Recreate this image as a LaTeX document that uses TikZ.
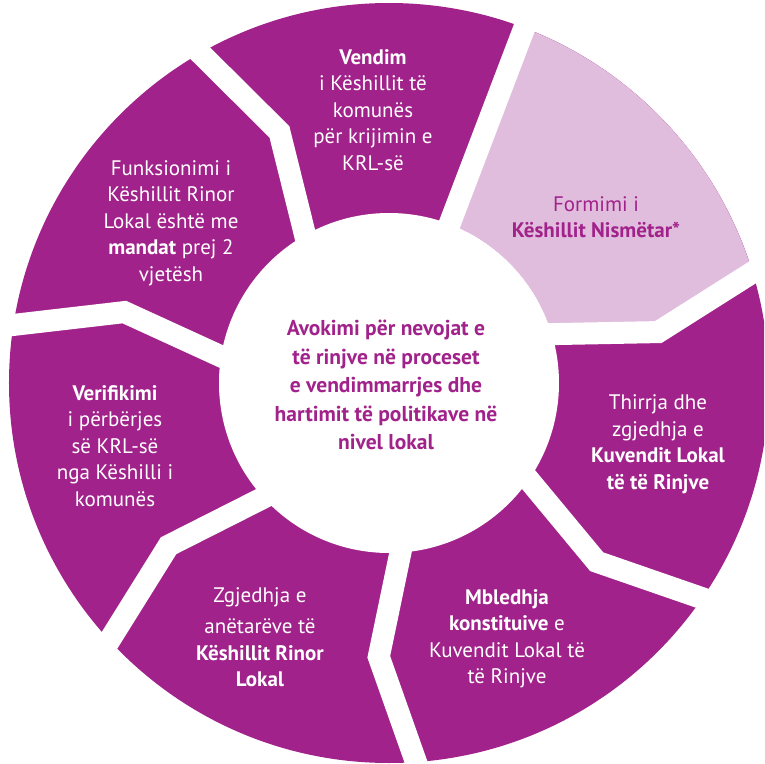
\documentclass[tikz,border=0pt]{standalone}
\usepackage{fontspec}
\setmainfont{PT Sans}
\usepackage{tikz}
\usepackage{xcolor}
\definecolor{ringpurple}{RGB}{161,34,138}
\definecolor{ringpink}{RGB}{225,189,221}
\tikzset{
    step-text/.style = {text=white, align=center, inner sep=0pt, font=\fontsize{21}{26.5}\selectfont},
    step-text-pink/.style = {step-text, text=ringpurple},
    middle-text/.style = {text=ringpurple, align=center, inner sep=0pt, font=\fontsize{21.5}{28.5}\selectfont\bfseries},
    gap-line/.style = {draw=white, line width=22pt, line join=miter},
}

\begin{document}
\begin{tikzpicture}[x=1pt, y=1pt]
\useasboundingbox (-389,-381) rectangle (375,383);
\clip (-389,-381) rectangle (375,383);
% ring of steps
\fill[ringpurple] (0,0) circle (380);
\fill[ringpink] (17.71:170) -- (10.71:274) -- (17.71:380)
    arc[start angle=17.71, end angle=69.14, radius=380] -- (69.14:170)
    arc[start angle=69.14, end angle=17.71, radius=170] -- cycle;
% white gaps between the steps
\foreach \a in {17.71, 326.29, 274.86, 223.43, 172, 120.57}
    \draw[gap-line] (\a:160) -- ({\a-7}:274) -- (\a:400);
\draw[gap-line] (69.14:160) -- (69.14:400);
\fill[white] (0,0) circle (170);

\node[middle-text] (middle) at (-3,-2) {Avokimi për nevojat e\\ të rinjve në proceset\\ e vendimmarrjes dhe\\ hartimit të politikave në\\ nivel lokal};

\node[step-text-pink] (formimi) at (207,166) {Formimi i\\ \textbf{Këshillit Nismëtar*}};
\node[step-text] (thirrja) at (269,-61) {Thirrja dhe\\ zgjedhja e\\ \textbf{Kuvendit Lokal}\\ \textbf{të të Rinjve}};
\node[step-text] (mbledhja) at (118,-256) {\textbf{Mbledhja}\\ \textbf{konstituive} e\\ Kuvendit Lokal të\\ të Rinjve};
\node[step-text] (zgjedhja) at (-129,-254) {Zgjedhja e\\[5pt] anëtarëve të\\ \textbf{Këshillit Rinor}\\ \textbf{Lokal}};
\node[step-text] (verifikimi) at (-274,-63) {\textbf{Verifikimi}\\ i përbërjes\\ së KRL-së\\ nga Këshilli i\\ komunës};
\node[step-text] (funksionimi) at (-218,160) {Funksionimi i\\ Këshillit Rinor\\ Lokal është me\\ \textbf{mandat} prej 2\\ vjetësh};
\node[step-text] (vendim) at (-16,273) {\textbf{Vendim}\\ i Këshillit të\\ komunës\\ për krijimin e\\ KRL-së};
\end{tikzpicture}
\end{document}
